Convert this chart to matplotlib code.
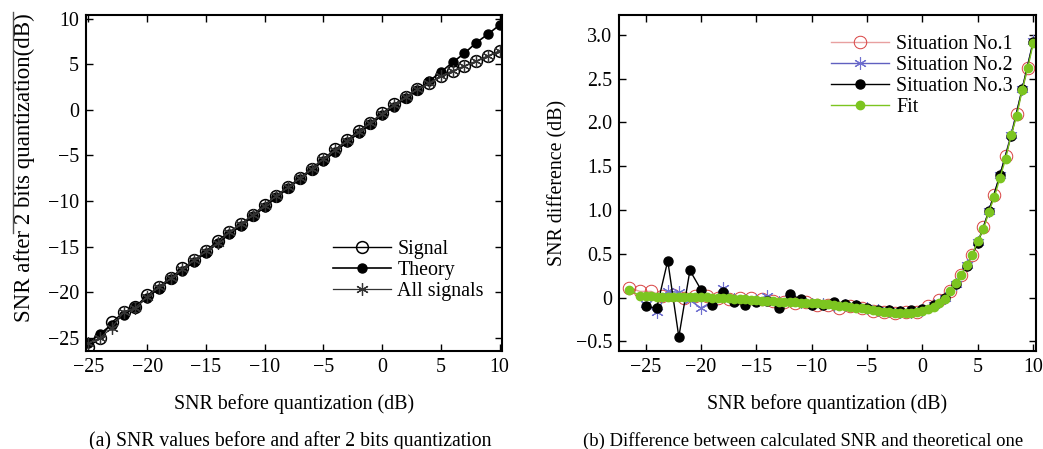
import numpy as np
import matplotlib.pyplot as plt
from matplotlib.lines import Line2D

plt.rcParams['font.family'] = ['Liberation Serif', 'DejaVu Serif']
plt.rcParams['font.size'] = 14.4

# ---- panel (a) data ----
snr_in = list(range(-25, 11))
signal = [-26.0, -25.05, -23.3, -22.2, -21.6, -20.35, -19.4, -18.4, -17.4, -16.5,
          -15.5, -14.35, -13.4, -12.5, -11.55, -10.4, -9.4, -8.45, -7.45, -6.45,
          -5.35, -4.35, -3.35, -2.3, -1.4, -0.4, 0.6, 1.4, 2.25, 2.95,
          3.7, 4.25, 4.8, 5.3, 5.9, 6.45]
theory = [-25.55, -24.55, -23.55, -22.45, -21.65, -20.6, -19.6, -18.6, -17.65, -16.65,
          -15.65, -14.65, -13.65, -12.7, -11.7, -10.65, -9.6, -8.6, -7.6, -6.6,
          -5.6, -4.6, -3.55, -2.55, -1.6, -0.6, 0.35, 1.25, 2.2, 3.15,
          4.15, 5.2, 6.2, 7.35, 8.3, 9.3]
all_signals = [-25.6, -25.0, -23.9, -22.2, -21.7, -20.5, -19.4, -18.5, -17.5, -16.5,
               -15.5, -14.6, -13.4, -12.5, -11.5, -10.5, -9.4, -8.5, -7.5, -6.5,
               -5.4, -4.4, -3.4, -2.4, -1.4, -0.45, 0.55, 1.4, 2.25, 2.95,
               3.7, 4.25, 4.8, 5.35, 5.9, 6.45]

# ---- panel (b) data ----
x_half = [-26.5, -25.5, -24.5, -23.5, -22.5, -21.5, -20.5, -19.5, -18.5, -17.5,
          -16.5, -15.5, -14.5, -13.5, -12.5, -11.5, -10.5, -9.5, -8.5, -7.5,
          -6.5, -5.5, -4.5, -3.5, -2.5, -1.5, -0.5, 0.5, 1.5, 2.5,
          3.5, 4.5, 5.5, 6.5, 7.5, 8.5, 9.5]
situation1 = [0.11, 0.07, 0.07, 0.02, 0.03, 0.0, 0.02, 0.02, -0.01, -0.02,
              0.0, -0.01, -0.02, -0.04, -0.05, -0.06, -0.05, -0.09, -0.08, -0.12,
              -0.1, -0.12, -0.15, -0.17, -0.18, -0.17, -0.16, -0.1, -0.03, 0.08,
              0.26, 0.48, 0.8, 1.17, 1.62, 2.1, 2.62]

x_int = list(range(-25, 11))
situation2 = [-0.07, -0.17, 0.07, 0.06, -0.03, -0.12, -0.05, 0.11, -0.02, -0.03,
              -0.03, 0.02, -0.05, 0.0, -0.05, -0.07, -0.07, -0.08, -0.09, -0.1,
              -0.12, -0.14, -0.15, -0.17, -0.16, -0.14, -0.09, -0.01, 0.16, 0.37,
              0.63, 0.99, 1.4, 1.86, 2.38, 2.93]
situation3 = [-0.1, -0.12, 0.42, -0.45, 0.31, 0.09, -0.08, 0.06, -0.05, -0.09,
              -0.05, -0.04, -0.12, 0.04, -0.02, -0.08, -0.08, -0.05, -0.07, -0.08,
              -0.12, -0.14, -0.14, -0.15, -0.14, -0.13, -0.08, 0.0, 0.16, 0.36,
              0.62, 0.99, 1.4, 1.84, 2.38, 2.92]

x_fit = [-26.5, -25.5, -25.0, -24.5, -24.0, -23.5, -23.0, -22.5, -22.0, -21.5,
         -21.0, -20.5, -20.0, -19.5, -19.0, -18.5, -18.0, -17.5, -17.0, -16.5,
         -16.0, -15.5, -15.0, -14.5, -14.0, -13.5, -13.0, -12.5, -12.0, -11.5,
         -11.0, -10.5, -10.0, -9.5, -9.0, -8.5, -8.0, -7.5, -7.0, -6.5,
         -6.0, -5.5, -5.0, -4.5, -4.0, -3.5, -3.0, -2.5, -2.0, -1.5,
         -1.0, -0.5, 0.0, 0.5, 1.0, 1.5, 2.0, 2.5, 3.0, 3.5,
         4.0, 4.5, 5.0, 5.5, 6.0, 6.5, 7.0, 7.5, 8.0, 8.5,
         9.0, 9.5, 10.0]
fit = [0.09, 0.02, 0.015, 0.012, 0.01, 0.01, 0.009, 0.008, 0.007, 0.006,
       0.005, 0.005, 0.004, 0.002, 0.0, -0.003, -0.006, -0.01, -0.014, -0.018,
       -0.022, -0.027, -0.031, -0.036, -0.04, -0.043, -0.046, -0.049, -0.052, -0.055,
       -0.058, -0.061, -0.064, -0.067, -0.071, -0.077, -0.084, -0.091, -0.099, -0.107,
       -0.115, -0.125, -0.135, -0.144, -0.152, -0.16, -0.167, -0.173, -0.177, -0.178,
       -0.175, -0.167, -0.155, -0.135, -0.105, -0.065, -0.015, 0.08, 0.17, 0.26,
       0.37, 0.49, 0.65, 0.78, 0.98, 1.15, 1.37, 1.58, 1.85, 2.07,
       2.37, 2.62, 2.9]

asterisk = (6, 2, 0)

fig = plt.figure(figsize=(10.43, 4.49), dpi=100)
ax1 = fig.add_axes([0.0825, 0.2183, 0.3988, 0.7483])
ax2 = fig.add_axes([0.5935, 0.2183, 0.3998, 0.7483])

# panel (a)
ax1.plot(snr_in, signal, '-', color='black', lw=1.0, marker='o', ms=8.5,
         mfc='none', mec='black', mew=1.1, label='Signal')
ax1.plot(snr_in, theory, '-', color='black', lw=1.2, marker='o', ms=6.5,
         mfc='black', mec='black', label='Theory')
ax1.plot(snr_in, all_signals, '-', color='#333333', lw=0.9, marker=asterisk, ms=9,
         mec='#333333', mew=0.9, label='All signals')
ax1.set_xlim(-25.2, 10.2)
ax1.set_ylim(-26.45, 10.4)
ax1.set_xticks([-25, -20, -15, -10, -5, 0, 5, 10])
ax1.set_yticks([-25, -20, -15, -10, -5, 0, 5, 10])
ax1.set_xlabel('SNR before quantization (dB)', labelpad=12)
ax1.set_ylabel('SNR after 2 bits quantization(dB)', fontsize=16.5)
ax1.yaxis.set_label_coords(-0.122, 0.545)
ax1.legend(loc='upper left', bbox_to_anchor=(0.575, 0.355), frameon=False,
           handlelength=2.9, handletextpad=0.3, labelspacing=0.1, borderaxespad=0)

# panel (b)
ax2.plot(x_half, situation1, '-', color='#e8a0a0', lw=1.0, marker='o', ms=9,
         mfc='none', mec='#d84040', mew=0.7, label='Situation No.1')
ax2.plot(x_int, situation2, '-', color='#6060c0', lw=1.0, marker=asterisk, ms=9,
         mec='#7070d0', mew=0.8, label='Situation No.2')
ax2.plot(x_int, situation3, '-', color='black', lw=1.0, marker='o', ms=6.5,
         mfc='black', mec='black', label='Situation No.3')
ax2.plot(x_fit, fit, '-', color='#7cc520', lw=1.0, marker='o', ms=6,
         mfc='#7cc520', mec='#7cc520', label='Fit')
ax2.set_xlim(-27.4, 10.25)
ax2.set_ylim(-0.61, 3.225)
ax2.set_xticks([-25, -20, -15, -10, -5, 0, 5, 10])
ax2.set_yticks([-0.5, 0, 0.5, 1.0, 1.5, 2.0, 2.5, 3.0])
ax2.set_yticklabels(['\u22120.5', '0', '0.5', '1.0', '1.5', '2.0', '2.5', '3.0'])
ax2.set_xlabel('SNR before quantization (dB)', labelpad=12)
ax2.set_ylabel('SNR difference (dB)', labelpad=6)
ax2.legend(loc='upper left', bbox_to_anchor=(0.49, 0.965), frameon=False,
           handlelength=2.9, handletextpad=0.35, labelspacing=0.1, borderaxespad=0)

for ax in (ax1, ax2):
    ax.tick_params(direction='in', top=True, right=True, length=5, width=1.0,
                   labelsize=14.4, pad=5)
    for s in ax.spines.values():
        s.set_linewidth(1.5)

# stray line beside the left y label in the source image
fig.add_artist(Line2D([13 / 1043, 13 / 1043], [1 - 12 / 449, 1 - 233 / 449],
                      color='#555555', lw=1.0))

fig.text(290 / 1043, 1 - 441 / 449, '(a) SNR values before and after 2 bits quantization',
         ha='center', va='center', fontsize=14.2)
fig.text(583 / 1043, 1 - 441 / 449,
         '(b) Difference between calculated SNR and theoretical one',
         ha='left', va='center', fontsize=13.4)

fig.savefig('out.png', dpi=100)
